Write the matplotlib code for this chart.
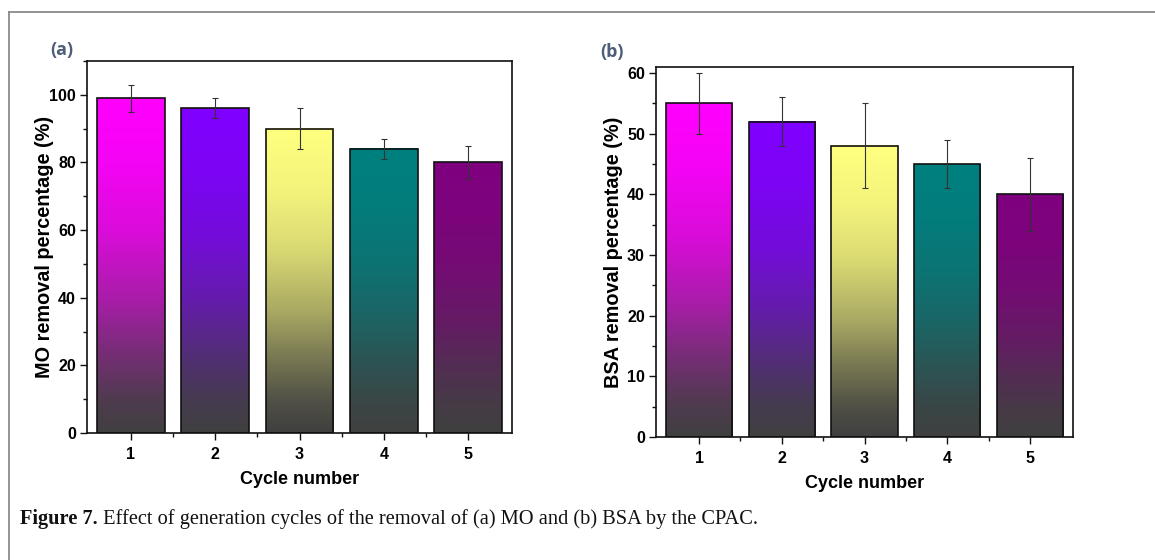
import matplotlib
matplotlib.use("Agg")
import matplotlib.pyplot as plt
import numpy as np
from matplotlib.colors import ListedColormap, to_rgb
from matplotlib.ticker import MultipleLocator

cycles = [1, 2, 3, 4, 5]
mo_values = [99, 96, 90, 84, 80]
mo_errors = [4, 3, 6, 3, 5]
bsa_values = [55, 52, 48, 45, 40]
bsa_errors = [5, 4, 7, 4, 6]
top_colors = ["#ff00ff", "#8000ff", "#ffff80", "#008080", "#800080"]
bottom_color = "#404040"
xlabel = "Cycle number"
ylabel_a = "MO removal percentage (%)"
ylabel_b = "BSA removal percentage (%)"
caption_bold = "Figure 7."
caption_rest = " Effect of generation cycles of the removal of (a) MO and (b) BSA by the CPAC."

W, H = 1155, 560
fig = plt.figure(figsize=(W / 100, H / 100), dpi=100)

sans = "Liberation Sans"

# gradient mixing profile (bottom -> top)
_t = np.linspace(0, 1, 256)
_mix = np.interp(_t, [0, 0.1, 0.25, 0.4, 0.6, 0.8, 1.0],
                 [0, 0.08, 0.3, 0.55, 0.8, 0.94, 1.0])


def grad_cmap(top):
    b = np.array(to_rgb(bottom_color))
    t = np.array(to_rgb(top))
    cols = b[None, :] * (1 - _mix[:, None]) + t[None, :] * _mix[:, None]
    return ListedColormap(cols)


def panel(rect, values, errors, ylim, major, minor, ylabel, tag, tagpos,
          xlab_y, ylab_x):
    ax = fig.add_axes(rect)
    bw = 0.8
    grad = np.linspace(0, 1, 256).reshape(-1, 1)
    for x, v, c in zip(cycles, values, top_colors):
        ax.imshow(grad, cmap=grad_cmap(c), origin="lower", aspect="auto",
                  extent=[x - bw / 2, x + bw / 2, 0, v], zorder=1,
                  interpolation="bilinear")
    ax.bar(cycles, values, width=bw, facecolor="none", edgecolor="#111111",
           linewidth=1.2, zorder=2)
    ax.errorbar(cycles, values, yerr=errors, fmt="none", ecolor="#333333",
                elinewidth=0.8, capsize=2.5, capthick=0.8, zorder=3)
    ax.set_xlim(0.48, 5.52)
    ax.set_ylim(*ylim)
    ax.set_xticks(cycles)
    ax.set_xticks([1.5, 2.5, 3.5, 4.5], minor=True)
    ax.yaxis.set_major_locator(MultipleLocator(major))
    ax.yaxis.set_minor_locator(MultipleLocator(minor))
    ax.tick_params(which="both", direction="out", top=False, right=False,
                   width=1.0, color="#111111")
    ax.tick_params(which="major", length=5, labelsize=11.5, pad=3)
    ax.tick_params(axis="x", which="major", pad=5)
    ax.tick_params(which="minor", length=3)
    for lab in ax.get_xticklabels() + ax.get_yticklabels():
        lab.set_fontfamily(sans)
        lab.set_fontweight("bold")
    for s in ax.spines.values():
        s.set_linewidth(1.2)
        s.set_color("#111111")
    ax.set_xlabel(xlabel, fontsize=13, fontweight="bold", family=sans)
    ax.set_ylabel(ylabel, fontsize=14.3, fontweight="bold", family=sans)
    ax.xaxis.set_label_coords(0.5, xlab_y)
    ax.yaxis.set_label_coords(ylab_x, 0.5)
    fig.text(tagpos[0], tagpos[1], tag, fontsize=13, fontweight="bold",
             family="Open Sans", color="#4e5d78", ha="left", va="center")
    return ax


axa = panel([87 / W, 1 - 433 / H, 425 / W, 372 / H], mo_values, mo_errors,
            (0, 110), 20, 10, ylabel_a, "(a)", (50 / W, 1 - 50 / H),
            -0.102, -0.078)
axb = panel([656 / W, 1 - 437 / H, 417 / W, 370 / H], bsa_values, bsa_errors,
            (0, 61), 10, 5, ylabel_b, "(b)", (600 / W, 1 - 52 / H),
            -0.103, -0.080)

# border lines (top and left)
fig.add_artist(plt.Line2D([9 / W, 1], [1 - 12 / H, 1 - 12 / H],
                          transform=fig.transFigure, color="#8a8a8a", lw=1.3))
fig.add_artist(plt.Line2D([9 / W, 9 / W], [0, 1 - 12 / H],
                          transform=fig.transFigure, color="#8a8a8a", lw=1.3))

# caption
t1 = fig.text(20 / W, 1 - 519 / H, caption_bold, fontsize=14.7,
              fontweight="bold", family="Liberation Serif", va="center",
              ha="left", color="#111111")
fig.canvas.draw()
bb = t1.get_window_extent()
fig.text(bb.x1 / W, 1 - 519 / H, caption_rest, fontsize=14.7,
         family="Liberation Serif", va="center", ha="left", color="#111111")

fig.savefig("out.png", dpi=100)
